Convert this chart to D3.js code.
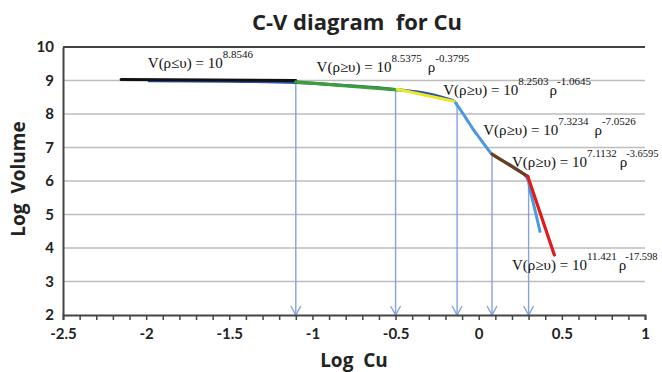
<!DOCTYPE html>
<html>
<head>
<meta charset="utf-8">
<script src="https://cdn.jsdelivr.net/npm/d3@7"></script>
<style>
  body { margin: 0; background: #fff; }
  .axisLbl text { font-family: Lato, 'Open Sans', sans-serif; font-weight: bold; font-size: 15px; fill: #222; }
  .fitLbl { font-family: 'Liberation Serif', 'Times New Roman', serif; font-size: 15px; fill: #111; }
  .ttl { font-family: 'Open Sans', Lato, sans-serif; font-weight: bold; fill: #222; white-space: pre; }
</style>
</head>
<body>
<div id="chart"></div>
<script>
// empirical C-V curve (log Cu, log volume)
const curveX = [-1.99, -1.5, -1.1, -0.8, -0.5, -0.3, -0.15, -0.12, -0.08, -0.03, 0.0, 0.04, 0.08, 0.2, 0.29, 0.31, 0.34, 0.37];
const curveY = [8.99, 8.98, 8.94, 8.85, 8.73, 8.6, 8.40, 8.2, 7.9, 7.52, 7.32, 7.05, 6.80, 6.45, 6.1, 5.7, 5.1, 4.46];

// fitted power-law segments
const fitColors = ['#111111', '#3a9e3a', '#e9e92a', '#6b3d1c', '#e21a1a'];
const fitX1 = [-2.15, -1.1, -0.49, 0.08, 0.295];
const fitY1 = [9.03, 8.96, 8.74, 6.80, 6.14];
const fitX2 = [-1.1, -0.49, -0.15, 0.295, 0.455];
const fitY2 = [9.0, 8.72, 8.38, 6.14, 3.79];

// thresholds dropped to the x axis
const arrowX = [-1.1, -0.5, -0.13, 0.08, 0.3];
const arrowTop = [8.95, 8.73, 8.36, 6.8, 6.1];

// equation labels
const labelRel = ['≤', '≥', '≥', '≥', '≥', '≥'];
const labelCoef = ['8.8546', '8.5375', '8.2503', '7.3234', '7.1132', '11.421'];
const labelExp = [null, '-0.3795', '-1.0645', '-7.0526', '-3.6595', '-17.598'];
const labelX = [-1.99, -0.975, -0.213, 0.027, 0.2, 0.2];
const labelY = [9.37, 9.25, 8.57, 7.37, 6.43, 3.34];

const xTicks = [-2.5, -2, -1.5, -1, -0.5, 0, 0.5, 1];
const yTicks = [2, 3, 4, 5, 6, 7, 8, 9, 10];

const W = 662, H = 372;
const margin = {top: 47, right: 17, bottom: 57, left: 63};
const width = W - margin.left - margin.right;
const height = H - margin.top - margin.bottom;

const svg = d3.select('#chart').append('svg')
  .attr('width', W).attr('height', H);
const g = svg.append('g')
  .attr('transform', `translate(${margin.left},${margin.top})`);

const x = d3.scaleLinear().domain([-2.5, 1]).range([0, width]);
const y = d3.scaleLinear().domain([2, 10]).range([height, 0]);

// grid lines
g.append('g')
  .selectAll('line')
  .data(yTicks.filter(v => v > 2 && v < 10))
  .enter().append('line')
  .attr('x1', 0).attr('x2', width)
  .attr('y1', d => y(d)).attr('y2', d => y(d))
  .attr('stroke', '#bdbdbd').attr('stroke-width', 1.5);

// top border
g.append('line')
  .attr('x1', 0).attr('x2', width)
  .attr('y1', y(10)).attr('y2', y(10))
  .attr('stroke', '#444').attr('stroke-width', 2);

// arrows
const arrows = g.append('g').attr('stroke', '#85a2dc').attr('fill', 'none').attr('stroke-width', 1.4);
arrowX.forEach((v, i) => {
  const px = x(v);
  arrows.append('line')
    .attr('x1', px).attr('x2', px)
    .attr('y1', y(arrowTop[i])).attr('y2', y(2));
  arrows.append('path')
    .attr('d', `M${px - 5},${y(2) - 9}L${px},${y(2)}L${px + 5},${y(2) - 9}`);
});

// empirical curve
const line = d3.line().x(d => x(d[0])).y(d => y(d[1])).curve(d3.curveMonotoneX);
const curve = curveX.map((v, i) => [v, curveY[i]]);
g.append('path')
  .datum(curve.slice(0, 7))
  .attr('d', line)
  .attr('fill', 'none').attr('stroke', '#2a4fae').attr('stroke-width', 3);
g.append('path')
  .datum(curve.slice(6))
  .attr('d', d3.line().x(d => x(d[0])).y(d => y(d[1])).curve(d3.curveCatmullRom))
  .attr('fill', 'none').attr('stroke', '#4b98e2').attr('stroke-width', 3);

// fitted segments
fitColors.forEach((c, i) => {
  g.append('line')
    .attr('x1', x(fitX1[i])).attr('y1', y(fitY1[i]))
    .attr('x2', x(fitX2[i])).attr('y2', y(fitY2[i]))
    .attr('stroke', c).attr('stroke-width', 3.2)
    .attr('stroke-linecap', 'round');
});

// equation labels
const rhoGap = [0, 6, 1, 6, 3, 2];
labelCoef.forEach((c, i) => {
  const t = g.append('text')
    .attr('class', 'fitLbl')
    .attr('x', x(labelX[i])).attr('y', y(labelY[i]));
  t.append('tspan').text(`V(ρ${labelRel[i]}υ) = 10`);
  t.append('tspan').attr('dy', -10).attr('font-size', 11).text(c);
  if (labelExp[i]) {
    t.append('tspan').attr('dy', 10).attr('dx', rhoGap[i]).text('ρ');
    t.append('tspan').attr('dy', -10).attr('dx', i > 3 ? -1 : 0)
      .attr('font-size', i > 3 ? 10.5 : 11).text(labelExp[i]);
  }
});

// x axis
const xAxis = g.append('g')
  .attr('transform', `translate(0,${height})`);
xAxis.append('g')
  .call(d3.axisBottom(x).tickValues(d3.range(-25, 11).map(d => d / 10)).tickSize(5).tickFormat(''))
  .call(s => s.select('.domain').attr('stroke', '#444').attr('stroke-width', 2))
  .call(s => s.selectAll('.tick line').attr('stroke', '#444').attr('stroke-width', 1.5));
xAxis.append('g')
  .attr('class', 'axisLbl')
  .call(d3.axisBottom(x).tickValues(xTicks).tickSize(0).tickPadding(13)
    .tickFormat(d => String(d)))
  .call(s => s.select('.domain').remove());

// y axis
g.append('g')
  .attr('class', 'axisLbl')
  .call(d3.axisLeft(y).tickValues(yTicks).tickSize(0).tickPadding(9))
  .call(s => s.select('.domain').attr('stroke', '#444').attr('stroke-width', 2));

// titles
svg.append('text')
  .attr('class', 'ttl')
  .attr('x', 357).attr('y', 30)
  .attr('text-anchor', 'middle')
  .style('font-size', '22px')
  .text('C-V diagram  for Cu');

svg.append('text')
  .attr('class', 'ttl')
  .attr('x', 354).attr('y', 367)
  .attr('text-anchor', 'middle')
  .style('font-size', '19px')
  .text('Log  Cu');

svg.append('text')
  .attr('class', 'ttl')
  .attr('transform', `translate(25,${margin.top + height / 2 - 2}) rotate(-90)`)
  .attr('text-anchor', 'middle')
  .style('font-size', '19px')
  .text('Log  Volume');
</script>
</body>
</html>
